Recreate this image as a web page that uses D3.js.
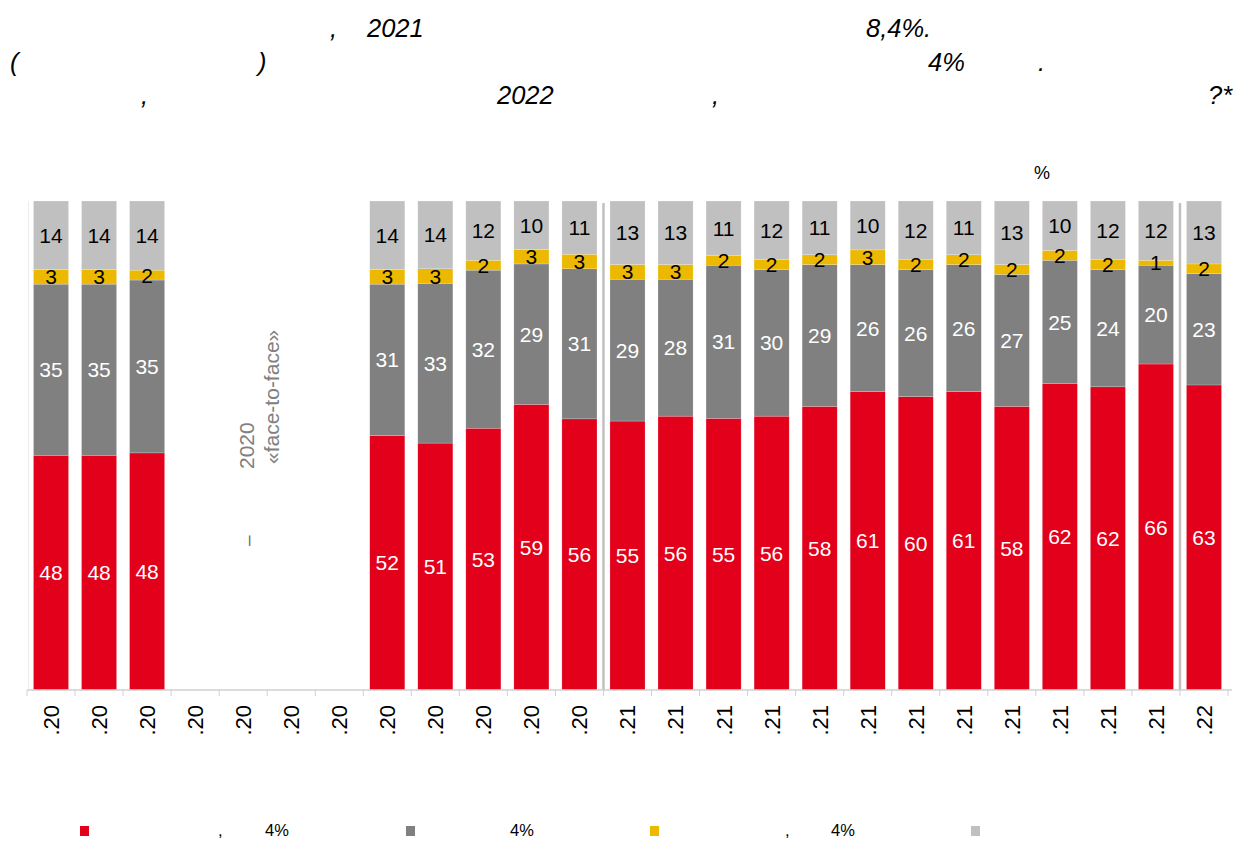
<!DOCTYPE html>
<html>
<head>
<meta charset="utf-8">
<script src="https://cdn.jsdelivr.net/npm/d3@7"></script>
<style>
  body { margin: 0; background: #fff; }
  text { font-family: "Liberation Sans", Arial, sans-serif; }
</style>
</head>
<body>
<script>
// months, Jan 2020 .. Jan 2022 (Apr-Jul 2020 had no survey)
const months = ["01.20","02.20","03.20","04.20","05.20","06.20","07.20","08.20","09.20","10.20","11.20","12.20",
                "01.21","02.21","03.21","04.21","05.21","06.21","07.21","08.21","09.21","10.21","11.21","12.21","01.22"];
const tickLabels = [".20",".20",".20",".20",".20",".20",".20",".20",".20",".20",".20",".20",
                    ".21",".21",".21",".21",".21",".21",".21",".21",".21",".21",".21",".21",".22"];

const s1 = [48,48,48,null,null,null,null,52,51,53,59,56,55,56,55,56,58,61,60,61,58,62,62,66,63];
const s2 = [35,35,35,null,null,null,null,31,33,32,29,31,29,28,31,30,29,26,26,26,27,25,24,20,23];
const s3 = [3,3,2,null,null,null,null,3,3,2,3,3,3,3,2,2,2,3,2,2,2,2,2,1,2];
const s4 = [14,14,14,null,null,null,null,14,14,12,10,11,13,13,11,12,11,10,12,11,13,10,12,12,13];

const seriesKeys = ["s1","s2","s3","s4"];
const colors = ["#e2001a","#808080","#ecb800","#c0c0c0"];
const labelColors = ["#fff","#fff","#000","#000"];

// title: only the latin/digit fragments are visible in the original
const titleBits = [
  {line:0, x:330, t:","}, {line:0, x:367, t:"2021"}, {line:0, x:866, t:"8,4%."},
  {line:1, x:10, t:"("}, {line:1, x:258, t:")"}, {line:1, x:928, t:"4%"}, {line:1, x:1038, t:"."},
  {line:2, x:141, t:","}, {line:2, x:497, t:"2022"}, {line:2, x:712, t:","}, {line:2, x:1208, t:"?*"}
];
const legendBits = [
  {x:80, text:[{x:218, t:","},{x:265, t:"4%"}]},
  {x:406, text:[{x:510, t:"4%"}]},
  {x:650, text:[{x:785, t:","},{x:831, t:"4%"}]},
  {x:971, text:[]}
];

const W = 1245, H = 841;
const svg = d3.select("body").append("svg").attr("width", W).attr("height", H);

const x = d3.scaleBand().domain(months).range([27, 1228]).paddingInner(0.27).paddingOuter(0.135);
const y = d3.scaleLinear().domain([0, 1]).range([690, 201]);

const rows = months.map((m, i) => ({m, s1: s1[i], s2: s2[i], s3: s3[i], s4: s4[i]}));
const data = rows.filter(d => d.s1 != null);
const stack = d3.stack().keys(seriesKeys).offset(d3.stackOffsetExpand);
const layers = stack(data);

// title
svg.append("g").selectAll("text").data(titleBits).join("text")
  .attr("x", d => d.x).attr("y", d => 37 + d.line * 33.5)
  .attr("font-size", 25.5).attr("font-style", "italic").attr("fill", "#000")
  .text(d => d.t);

svg.append("text").attr("x", 1034).attr("y", 179).attr("font-size", 18).text("%");

// faint left axis
svg.append("line").attr("x1", 28.5).attr("x2", 28.5).attr("y1", 201).attr("y2", 690)
  .attr("stroke", "#ececec");

// bars
const g = svg.append("g");
layers.forEach((layer, li) => {
  g.append("g").selectAll("rect").data(layer).join("rect")
    .attr("x", d => x(d.data.m)).attr("width", x.bandwidth())
    .attr("y", d => y(d[1])).attr("height", d => y(d[0]) - y(d[1]))
    .attr("fill", colors[li]).attr("stroke", "#fff").attr("stroke-opacity", 0.4).attr("stroke-width", 0.5);
});
layers.forEach((layer, li) => {
  g.append("g").selectAll("text").data(layer).join("text")
    .attr("x", d => x(d.data.m) + x.bandwidth() / 2)
    .attr("y", d => (y(d[0]) + y(d[1])) / 2)
    .attr("dy", "0.36em").attr("text-anchor", "middle")
    .attr("font-size", 21).attr("fill", labelColors[li])
    .text(d => d.data[layer.key]);
});

// year separators
["01.21","01.22"].forEach(m => {
  const sx = x(m) - x.step() * x.paddingInner() / 2;
  svg.append("line").attr("x1", sx).attr("x2", sx).attr("y1", 203).attr("y2", 690)
    .attr("stroke", "#c0c0c0").attr("stroke-width", 2.5);
});

// x axis
const ax = svg.append("g").attr("transform", "translate(0,690)");
ax.append("line").attr("x1", 27).attr("x2", 1232).attr("stroke", "#d0d0d0").attr("stroke-width", 1.5);
ax.selectAll("line.t").data(d3.range(months.length + 1)).join("line").attr("class", "t")
  .attr("x1", i => 27 + i * x.step()).attr("x2", i => 27 + i * x.step())
  .attr("y1", 0).attr("y2", 6).attr("stroke", "#d0d0d0");
ax.selectAll("text").data(months).join("text")
  .attr("transform", (m) => `translate(${x(m) + x.bandwidth() / 2},15) rotate(-90)`)
  .attr("text-anchor", "end").attr("dy", "0.36em")
  .attr("font-size", 22).attr("fill", "#000")
  .text((m, i) => tickLabels[i]);

// note in the gap
const note = svg.append("g").attr("fill", "#808080").attr("font-size", 21);
note.append("text").attr("transform", "translate(254,469) rotate(-90)").text("2020");
note.append("text").attr("transform", "translate(279,464) rotate(-90)").text("«face-to-face»");
note.append("text").attr("transform", "translate(254,546) rotate(-90)").attr("fill", "#666").attr("font-size", 19).text("–");

// legend
const lg = svg.append("g");
legendBits.forEach((b, i) => {
  lg.append("rect").attr("x", b.x).attr("y", 826).attr("width", 9).attr("height", 10).attr("fill", colors[i]);
  b.text.forEach(tb => {
    lg.append("text").attr("x", tb.x).attr("y", 836).attr("font-size", 16.5).text(tb.t);
  });
});
</script>
</body>
</html>
